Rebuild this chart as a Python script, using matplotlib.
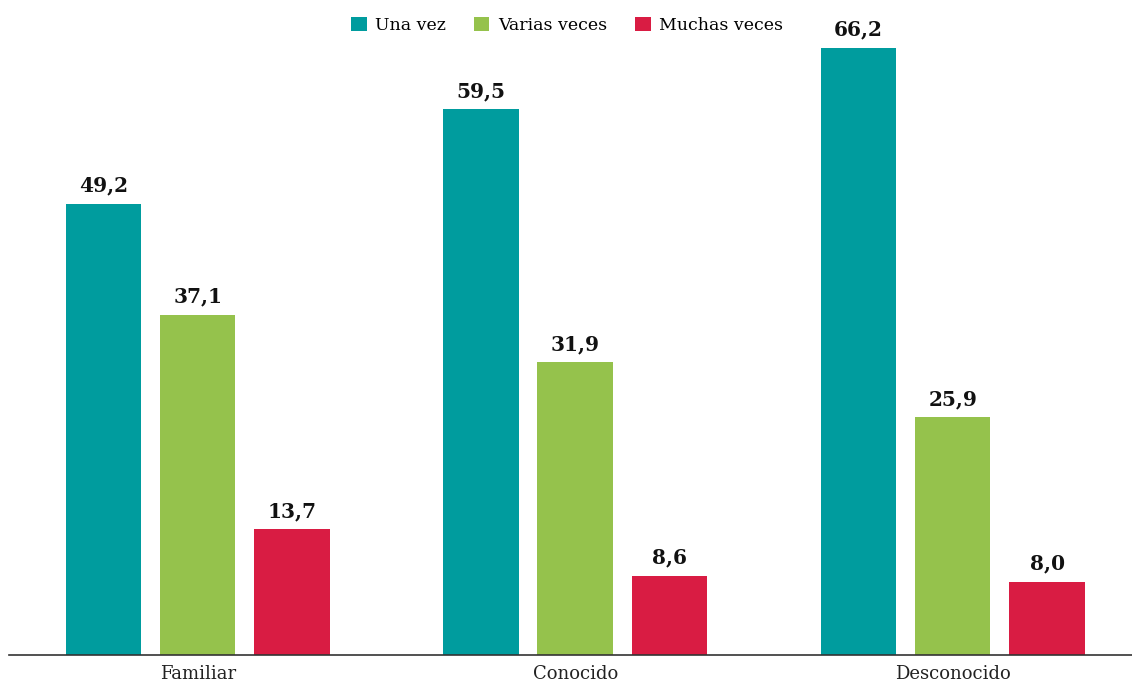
import matplotlib.pyplot as plt
import numpy as np

categories = ["Familiar", "Conocido", "Desconocido"]
series = ["Una vez", "Varias veces", "Muchas veces"]
una_vez = [49.2, 59.5, 66.2]
varias_veces = [37.1, 31.9, 25.9]
muchas_veces = [13.7, 8.6, 8.0]
colors = ["#009C9E", "#95C24C", "#D91C43"]

plt.rcParams['font.family'] = ['DejaVu Serif']

fig = plt.figure(figsize=(11.32, 6.81), dpi=100)
ax = fig.add_axes([9 / 1132, 26 / 681, 1 - 9 / 1132, 655 / 681])

x = np.arange(len(categories)) * 4
values = [una_vez, varias_veces, muchas_veces]
for i, (name, vals, c) in enumerate(zip(series, values, colors)):
    bars = ax.bar(x + i - 1, vals, width=0.8, color=c, label=name)
    for b, v in zip(bars, vals):
        ax.text(b.get_x() + b.get_width() / 2, v + 0.9, f"{v:.1f}".replace(".", ","),
                ha="center", va="bottom", fontsize=14.5, fontweight="bold", color="#111111")

ax.set_xlim(-2, 9.9)
ax.set_ylim(0, 71.4)
ax.set_xticks(x)
ax.set_xticklabels(categories, fontsize=13, color="#222222")
ax.tick_params(axis="x", length=0, pad=7)
ax.set_yticks([])
for s in ["top", "right", "left"]:
    ax.spines[s].set_visible(False)
ax.spines["bottom"].set_color("#333333")
ax.spines["bottom"].set_linewidth(1.2)

ax.legend(loc="upper center", bbox_to_anchor=(0.497, 0.998), ncol=3, frameon=False,
          fontsize=12.5, handlelength=0.9, handleheight=0.9, handletextpad=0.5,
          columnspacing=1.6)

fig.savefig("out.png", dpi=100)
